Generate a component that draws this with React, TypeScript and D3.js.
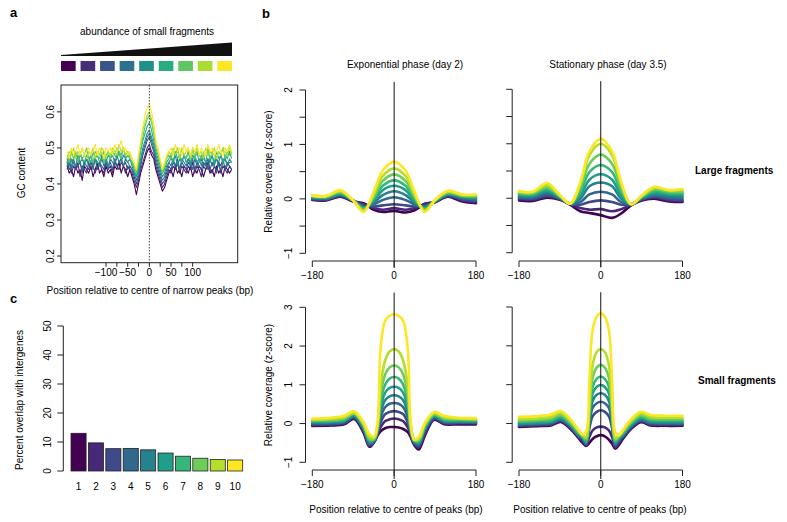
import React from 'react';
import * as d3 from 'd3';

const FONT = '"Liberation Sans", Arial, Helvetica, sans-serif';

// ---------- colours ----------
const VIRIDIS10 = ['#440154', '#482878', '#3E4A89', '#31688E', '#26828E', '#1F9E89', '#35B779', '#6DCD59', '#B4DE2C', '#FDE725'];
const VIRIDIS9 = ['#440154', '#472D7B', '#3B528B', '#2C728E', '#21908C', '#27AD81', '#5DC863', '#AADC32', '#FDE725'];

// ---------- panel a: GC content (positions -190..190 every 5 bp) ----------
const GC_X = [-190, -185, -180, -175, -170, -165, -160, -155, -150, -145, -140, -135, -130, -125, -120, -115, -110, -105, -100, -95, -90, -85, -80, -75, -70, -65, -60, -55, -50, -45, -40, -35, -30, -25, -20, -15, -10, -5, 0, 5, 10, 15, 20, 25, 30, 35, 40, 45, 50, 55, 60, 65, 70, 75, 80, 85, 90, 95, 100, 105, 110, 115, 120, 125, 130, 135, 140, 145, 150, 155, 160, 165, 170, 175, 180, 185, 190];
const GC_0 = [0.45, 0.43, 0.44, 0.42, 0.45, 0.43, 0.44, 0.41, 0.45, 0.44, 0.43, 0.45, 0.42, 0.44, 0.46, 0.43, 0.44, 0.42, 0.45, 0.43, 0.44, 0.42, 0.45, 0.44, 0.46, 0.43, 0.45, 0.44, 0.42, 0.44, 0.42, 0.40, 0.37, 0.40, 0.43, 0.45, 0.47, 0.49, 0.50, 0.48, 0.47, 0.44, 0.42, 0.40, 0.38, 0.39, 0.41, 0.43, 0.44, 0.42, 0.45, 0.43, 0.44, 0.42, 0.45, 0.44, 0.43, 0.45, 0.42, 0.44, 0.43, 0.45, 0.44, 0.42, 0.44, 0.45, 0.43, 0.44, 0.42, 0.45, 0.43, 0.44, 0.42, 0.45, 0.44, 0.43, 0.44];
const GC_1 = [0.44, 0.46, 0.43, 0.45, 0.44, 0.46, 0.42, 0.45, 0.44, 0.43, 0.46, 0.44, 0.45, 0.43, 0.45, 0.46, 0.44, 0.43, 0.46, 0.44, 0.45, 0.43, 0.46, 0.45, 0.44, 0.46, 0.45, 0.43, 0.45, 0.44, 0.43, 0.41, 0.39, 0.41, 0.44, 0.46, 0.48, 0.50, 0.51, 0.49, 0.48, 0.45, 0.43, 0.41, 0.39, 0.40, 0.42, 0.44, 0.43, 0.45, 0.44, 0.46, 0.43, 0.45, 0.44, 0.43, 0.45, 0.44, 0.46, 0.43, 0.45, 0.44, 0.42, 0.45, 0.44, 0.46, 0.44, 0.43, 0.45, 0.44, 0.46, 0.43, 0.45, 0.44, 0.43, 0.45, 0.44];
const GC_2 = [0.46, 0.44, 0.45, 0.47, 0.44, 0.45, 0.46, 0.43, 0.46, 0.45, 0.44, 0.46, 0.45, 0.47, 0.44, 0.46, 0.45, 0.44, 0.47, 0.45, 0.46, 0.44, 0.47, 0.45, 0.46, 0.47, 0.45, 0.46, 0.44, 0.45, 0.44, 0.42, 0.40, 0.42, 0.45, 0.48, 0.50, 0.52, 0.53, 0.51, 0.49, 0.46, 0.44, 0.42, 0.40, 0.41, 0.43, 0.45, 0.44, 0.46, 0.45, 0.47, 0.44, 0.46, 0.45, 0.44, 0.46, 0.45, 0.47, 0.44, 0.46, 0.45, 0.44, 0.46, 0.45, 0.47, 0.44, 0.46, 0.45, 0.43, 0.46, 0.45, 0.47, 0.44, 0.46, 0.45, 0.44];
const GC_3 = [0.45, 0.47, 0.44, 0.46, 0.45, 0.47, 0.46, 0.44, 0.46, 0.47, 0.45, 0.46, 0.44, 0.47, 0.46, 0.45, 0.47, 0.45, 0.46, 0.44, 0.47, 0.46, 0.45, 0.48, 0.46, 0.47, 0.45, 0.47, 0.46, 0.45, 0.44, 0.43, 0.41, 0.43, 0.46, 0.49, 0.51, 0.53, 0.54, 0.52, 0.50, 0.47, 0.45, 0.43, 0.41, 0.42, 0.44, 0.46, 0.45, 0.47, 0.45, 0.46, 0.44, 0.47, 0.46, 0.45, 0.47, 0.46, 0.44, 0.47, 0.45, 0.46, 0.47, 0.45, 0.46, 0.44, 0.47, 0.45, 0.46, 0.47, 0.45, 0.44, 0.46, 0.47, 0.45, 0.46, 0.46];
const GC_4 = [0.47, 0.45, 0.47, 0.46, 0.45, 0.48, 0.46, 0.47, 0.45, 0.47, 0.46, 0.48, 0.45, 0.47, 0.46, 0.45, 0.48, 0.46, 0.47, 0.45, 0.47, 0.48, 0.46, 0.47, 0.49, 0.46, 0.48, 0.47, 0.46, 0.47, 0.45, 0.43, 0.42, 0.44, 0.47, 0.50, 0.52, 0.54, 0.55, 0.53, 0.51, 0.48, 0.46, 0.44, 0.42, 0.43, 0.45, 0.46, 0.47, 0.46, 0.48, 0.45, 0.47, 0.46, 0.48, 0.46, 0.47, 0.45, 0.47, 0.48, 0.46, 0.47, 0.45, 0.48, 0.46, 0.47, 0.46, 0.48, 0.45, 0.47, 0.46, 0.48, 0.46, 0.47, 0.45, 0.47, 0.46];
const GC_5 = [0.46, 0.48, 0.46, 0.47, 0.49, 0.46, 0.48, 0.47, 0.46, 0.48, 0.47, 0.46, 0.49, 0.47, 0.48, 0.46, 0.47, 0.49, 0.46, 0.48, 0.47, 0.49, 0.48, 0.47, 0.49, 0.48, 0.50, 0.47, 0.48, 0.47, 0.46, 0.44, 0.42, 0.45, 0.49, 0.52, 0.54, 0.56, 0.57, 0.55, 0.52, 0.49, 0.47, 0.45, 0.43, 0.44, 0.46, 0.47, 0.48, 0.46, 0.49, 0.47, 0.48, 0.46, 0.48, 0.47, 0.49, 0.46, 0.48, 0.47, 0.49, 0.46, 0.48, 0.47, 0.46, 0.49, 0.47, 0.48, 0.46, 0.49, 0.47, 0.48, 0.46, 0.48, 0.47, 0.49, 0.47];
const GC_6 = [0.48, 0.46, 0.49, 0.47, 0.48, 0.46, 0.49, 0.47, 0.48, 0.50, 0.47, 0.48, 0.46, 0.49, 0.48, 0.47, 0.49, 0.46, 0.48, 0.49, 0.47, 0.49, 0.48, 0.50, 0.49, 0.47, 0.50, 0.48, 0.49, 0.47, 0.46, 0.45, 0.43, 0.46, 0.50, 0.53, 0.56, 0.58, 0.59, 0.57, 0.54, 0.50, 0.48, 0.46, 0.43, 0.45, 0.47, 0.48, 0.47, 0.49, 0.48, 0.50, 0.47, 0.49, 0.48, 0.47, 0.49, 0.48, 0.50, 0.47, 0.49, 0.48, 0.47, 0.49, 0.48, 0.50, 0.47, 0.49, 0.48, 0.47, 0.49, 0.48, 0.50, 0.47, 0.49, 0.48, 0.49];
const GC_7 = [0.47, 0.49, 0.48, 0.50, 0.47, 0.49, 0.48, 0.50, 0.48, 0.47, 0.49, 0.48, 0.50, 0.47, 0.49, 0.48, 0.50, 0.49, 0.47, 0.49, 0.48, 0.50, 0.49, 0.48, 0.51, 0.49, 0.50, 0.48, 0.49, 0.48, 0.47, 0.45, 0.44, 0.47, 0.51, 0.55, 0.57, 0.59, 0.60, 0.58, 0.55, 0.51, 0.49, 0.46, 0.44, 0.45, 0.47, 0.49, 0.48, 0.50, 0.48, 0.49, 0.47, 0.50, 0.48, 0.49, 0.50, 0.47, 0.49, 0.48, 0.50, 0.48, 0.49, 0.47, 0.50, 0.48, 0.49, 0.48, 0.50, 0.47, 0.49, 0.48, 0.50, 0.49, 0.48, 0.50, 0.48];
const GC_8 = [0.49, 0.47, 0.50, 0.48, 0.49, 0.51, 0.48, 0.50, 0.48, 0.49, 0.50, 0.48, 0.49, 0.51, 0.48, 0.50, 0.49, 0.47, 0.50, 0.49, 0.50, 0.48, 0.51, 0.49, 0.50, 0.52, 0.49, 0.50, 0.48, 0.49, 0.47, 0.46, 0.44, 0.48, 0.52, 0.56, 0.59, 0.61, 0.62, 0.60, 0.57, 0.52, 0.50, 0.47, 0.44, 0.46, 0.48, 0.49, 0.50, 0.48, 0.51, 0.49, 0.50, 0.48, 0.51, 0.49, 0.50, 0.48, 0.50, 0.49, 0.51, 0.48, 0.50, 0.49, 0.48, 0.51, 0.49, 0.50, 0.48, 0.49, 0.51, 0.49, 0.48, 0.50, 0.49, 0.51, 0.49];
const GC_SERIES = [GC_0, GC_1, GC_2, GC_3, GC_4, GC_5, GC_6, GC_7, GC_8];
const GC_XTICKS = [-100, -75, -50, -25, 0, 25, 50, 75, 100];
const GC_XLABELS = [-100, -50, 0, 50, 100];
const GC_YTICKS = [0.2, 0.3, 0.4, 0.5, 0.6];

// ---------- panel c: bars ----------
const BAR_CATS = ['1', '2', '3', '4', '5', '6', '7', '8', '9', '10'];
const BAR_VALUES = [13.0, 9.7, 7.7, 7.8, 7.3, 6.2, 5.1, 4.4, 4.0, 3.8];
const BAR_YTICKS = [0, 10, 20, 30, 40, 50];

// ---------- panel b: coverage profiles ----------
const X_LARGE = [-180, -150, -118, -90, -67, -45, -25, 0, 25, 45, 67, 90, 118, 150, 180];
const EXP_LARGE = [
  [-0.02, -0.03, 0.04, -0.05, -0.08, -0.2, -0.24, -0.22, -0.25, -0.21, -0.09, -0.06, 0.04, -0.05, -0.08],
  [-0.01, -0.02, 0.05, -0.04, -0.1, -0.17, -0.2, -0.17, -0.2, -0.17, -0.1, -0.06, 0.05, -0.03, -0.06],
  [0.0, -0.01, 0.06, -0.04, -0.12, -0.14, -0.12, -0.1, -0.12, -0.14, -0.12, -0.05, 0.06, -0.01, -0.04],
  [0.01, 0.0, 0.07, -0.03, -0.14, -0.1, -0.02, 0.03, -0.02, -0.1, -0.14, -0.05, 0.07, 0.01, -0.02],
  [0.02, 0.01, 0.08, -0.03, -0.16, -0.07, 0.07, 0.14, 0.07, -0.07, -0.16, -0.04, 0.08, 0.02, 0.0],
  [0.03, 0.02, 0.09, -0.03, -0.17, -0.04, 0.16, 0.24, 0.16, -0.04, -0.17, -0.04, 0.09, 0.04, 0.02],
  [0.04, 0.03, 0.11, -0.03, -0.18, 0.0, 0.24, 0.34, 0.24, 0.0, -0.18, -0.03, 0.1, 0.05, 0.04],
  [0.05, 0.04, 0.12, -0.03, -0.2, 0.04, 0.33, 0.45, 0.33, 0.04, -0.2, -0.03, 0.12, 0.06, 0.05],
  [0.06, 0.05, 0.14, -0.03, -0.22, 0.08, 0.42, 0.56, 0.42, 0.08, -0.22, -0.02, 0.13, 0.07, 0.07],
  [0.06, 0.05, 0.16, -0.03, -0.24, 0.13, 0.52, 0.68, 0.52, 0.13, -0.24, -0.02, 0.15, 0.08, 0.08],
];
const STA_LARGE = [
  [-0.04, -0.05, 0.01, -0.03, -0.12, -0.24, -0.27, -0.31, -0.36, -0.28, -0.13, -0.04, -0.01, -0.06, -0.07],
  [-0.02, -0.03, 0.03, -0.02, -0.11, -0.18, -0.21, -0.2, -0.24, -0.2, -0.12, -0.03, 0.01, -0.04, -0.05],
  [0.0, -0.01, 0.05, -0.01, -0.11, -0.12, -0.07, -0.04, -0.07, -0.12, -0.12, -0.02, 0.03, -0.02, -0.03],
  [0.02, 0.01, 0.08, 0.0, -0.1, -0.07, 0.07, 0.12, 0.07, -0.07, -0.11, -0.01, 0.05, 0.01, 0.0],
  [0.04, 0.03, 0.11, 0.01, -0.1, -0.01, 0.22, 0.29, 0.22, -0.01, -0.11, 0.0, 0.07, 0.04, 0.03],
  [0.06, 0.05, 0.14, 0.02, -0.1, 0.05, 0.34, 0.44, 0.34, 0.05, -0.11, 0.01, 0.1, 0.07, 0.06],
  [0.08, 0.07, 0.17, 0.03, -0.1, 0.12, 0.48, 0.61, 0.48, 0.12, -0.11, 0.02, 0.13, 0.09, 0.09],
  [0.1, 0.09, 0.2, 0.04, -0.1, 0.19, 0.63, 0.8, 0.63, 0.19, -0.11, 0.03, 0.16, 0.12, 0.12],
  [0.12, 0.11, 0.24, 0.05, -0.1, 0.26, 0.79, 1.0, 0.79, 0.26, -0.11, 0.04, 0.19, 0.14, 0.15],
  [0.13, 0.12, 0.28, 0.06, -0.1, 0.3, 0.86, 1.09, 0.86, 0.3, -0.11, 0.05, 0.21, 0.15, 0.17],
];
const X_SMALL_EXP = [-180, -140, -110, -88, -68, -54, -44, -36, -30, -20, -10, 0, 10, 20, 30, 36, 44, 54, 68, 88, 110, 140, 180];
const EXP_SMALL = [
  [-0.06, -0.05, -0.02, 0.12, -0.22, -0.6, -0.48, -0.3, -0.2, -0.12, -0.09, -0.09, -0.1, -0.14, -0.22, -0.34, -0.55, -0.67, -0.3, 0.1, -0.02, -0.02, -0.02],
  [-0.04, -0.03, 0.0, 0.14, -0.18, -0.58, -0.47, -0.26, -0.1, 0.06, 0.11, 0.13, 0.11, 0.06, -0.1, -0.28, -0.52, -0.62, -0.25, 0.12, 0.0, 0.0, 0.0],
  [-0.02, -0.01, 0.02, 0.16, -0.15, -0.55, -0.46, -0.22, 0.02, 0.24, 0.3, 0.32, 0.3, 0.24, 0.02, -0.23, -0.5, -0.58, -0.2, 0.14, 0.02, 0.02, 0.02],
  [0.0, 0.01, 0.04, 0.18, -0.12, -0.52, -0.45, -0.19, 0.15, 0.42, 0.51, 0.53, 0.51, 0.42, 0.15, -0.2, -0.48, -0.55, -0.16, 0.16, 0.04, 0.04, 0.03],
  [0.02, 0.03, 0.06, 0.2, -0.1, -0.49, -0.44, -0.16, 0.27, 0.6, 0.7, 0.73, 0.7, 0.6, 0.27, -0.17, -0.46, -0.52, -0.13, 0.18, 0.06, 0.05, 0.05],
  [0.04, 0.05, 0.08, 0.22, -0.07, -0.46, -0.42, -0.13, 0.4, 0.79, 0.92, 0.95, 0.92, 0.79, 0.4, -0.14, -0.45, -0.49, -0.1, 0.2, 0.08, 0.07, 0.06],
  [0.06, 0.07, 0.1, 0.24, -0.05, -0.43, -0.41, -0.1, 0.55, 1.0, 1.16, 1.2, 1.16, 1.0, 0.55, -0.1, -0.44, -0.46, -0.07, 0.22, 0.1, 0.09, 0.08],
  [0.08, 0.09, 0.13, 0.26, -0.02, -0.4, -0.39, -0.05, 0.72, 1.26, 1.45, 1.5, 1.45, 1.26, 0.72, -0.05, -0.42, -0.43, -0.04, 0.24, 0.13, 0.11, 0.1],
  [0.1, 0.12, 0.16, 0.28, 0.0, -0.35, -0.37, 0.0, 0.95, 1.62, 1.86, 1.92, 1.86, 1.62, 0.95, 0.0, -0.4, -0.4, -0.01, 0.27, 0.16, 0.13, 0.12],
  [0.13, 0.15, 0.2, 0.32, 0.05, -0.28, -0.34, 0.1, 1.9, 2.65, 2.78, 2.82, 2.78, 2.65, 1.9, 0.1, -0.42, -0.35, 0.02, 0.3, 0.2, 0.15, 0.14],
];
const X_SMALL_STA = [-180, -140, -110, -88, -66, -50, -40, -32, -25, -18, -9, 0, 9, 18, 25, 32, 40, 50, 66, 88, 110, 140, 180];
const STA_SMALL = [
  [-0.09, -0.07, -0.05, 0.04, -0.15, -0.36, -0.5, -0.58, -0.5, -0.4, -0.33, -0.3, -0.33, -0.42, -0.52, -0.65, -0.55, -0.38, -0.15, 0.03, -0.05, -0.06, -0.06],
  [-0.07, -0.05, -0.03, 0.06, -0.13, -0.34, -0.46, -0.56, -0.34, -0.18, -0.1, -0.08, -0.1, -0.18, -0.35, -0.62, -0.5, -0.35, -0.13, 0.05, -0.03, -0.04, -0.04],
  [-0.05, -0.03, -0.01, 0.08, -0.1, -0.32, -0.42, -0.54, -0.12, 0.18, 0.3, 0.34, 0.3, 0.18, -0.12, -0.58, -0.46, -0.32, -0.1, 0.07, -0.01, -0.02, -0.02],
  [-0.03, -0.01, 0.01, 0.1, -0.08, -0.3, -0.39, -0.52, -0.03, 0.4, 0.52, 0.56, 0.52, 0.4, -0.03, -0.55, -0.43, -0.3, -0.08, 0.09, 0.01, 0.0, 0.0],
  [-0.01, 0.01, 0.03, 0.12, -0.06, -0.28, -0.37, -0.5, 0.06, 0.58, 0.74, 0.78, 0.74, 0.58, 0.06, -0.52, -0.4, -0.28, -0.06, 0.11, 0.03, 0.02, 0.02],
  [0.01, 0.03, 0.05, 0.15, -0.04, -0.26, -0.35, -0.48, 0.15, 0.77, 0.94, 0.99, 0.94, 0.77, 0.15, -0.49, -0.37, -0.26, -0.04, 0.14, 0.06, 0.05, 0.05],
  [0.04, 0.06, 0.08, 0.18, -0.01, -0.23, -0.33, -0.45, 0.25, 0.94, 1.15, 1.21, 1.15, 0.94, 0.25, -0.46, -0.35, -0.23, -0.01, 0.17, 0.09, 0.08, 0.08],
  [0.07, 0.09, 0.12, 0.22, 0.02, -0.2, -0.32, -0.4, 0.35, 1.17, 1.44, 1.51, 1.44, 1.17, 0.35, -0.42, -0.33, -0.2, 0.02, 0.21, 0.12, 0.11, 0.11],
  [0.11, 0.13, 0.17, 0.27, 0.06, -0.17, -0.3, -0.35, 0.5, 1.5, 1.84, 1.92, 1.84, 1.5, 0.5, -0.37, -0.31, -0.17, 0.06, 0.26, 0.17, 0.15, 0.15],
  [0.17, 0.19, 0.23, 0.32, 0.1, -0.15, -0.28, -0.2, 1.1, 2.4, 2.75, 2.84, 2.75, 2.4, 1.1, -0.22, -0.3, -0.15, 0.1, 0.3, 0.22, 0.2, 0.2],
];
const B_XTICKS = [-180, 0, 180];
const LARGE_YTICKS = [-1, -0.5, 0, 0.5, 1, 1.5, 2];
const SMALL_YTICKS = [-1, 0, 1, 2, 3];
const LARGE_REF = [-1.27, 2.15];
const SMALL_REF = [-1.43, 3.38];

const AXIS = '#222';
const fmt = (v: number) => (v < 0 ? '\u2212' + Math.abs(v) : String(v));

function PanelA() {
  const x = d3.scaleLinear().domain([-204, 204]).range([61, 237.7]);
  const y = d3.scaleLinear().domain([0.1815, 0.6745]).range([262.7, 85]);
  const line = d3.line<number>().x((_, i) => x(GC_X[i])).y((v) => y(v));
  const sw = d3.scaleBand<number>().domain(d3.range(9)).range([61, 232]).paddingInner(0.25).paddingOuter(0);
  return (
    <g>
      <text x={10} y={17} fontSize={13} fontWeight="bold">a</text>
      <text x={147} y={35} fontSize={10} textAnchor="middle">abundance of small fragments</text>
      <polygon points="61,55 232,42.5 232,56 61,56" fill="#111" />
      {VIRIDIS9.map((c, i) => (
        <rect key={i} x={sw(i)} y={61} width={sw.bandwidth()} height={10} fill={c} />
      ))}
      <clipPath id="clipA"><rect x={61} y={85} width={176.7} height={177.7} /></clipPath>
      <g clipPath="url(#clipA)">
        {GC_SERIES.map((s, i) => (
          <path key={i} d={line(s) || ''} fill="none" stroke={VIRIDIS9[i]} strokeWidth={1.1} strokeLinejoin="round" />
        ))}
      </g>
      <line x1={x(0)} x2={x(0)} y1={85} y2={262.7} stroke="#444" strokeWidth={1} strokeDasharray="1.5,1.5" />
      <rect x={61} y={85} width={176.7} height={177.7} fill="none" stroke={AXIS} strokeWidth={1} />
      {GC_XTICKS.map((t) => (
        <line key={t} x1={x(t)} x2={x(t)} y1={262.7} y2={266.7} stroke={AXIS} />
      ))}
      {GC_XLABELS.map((t) => (
        <text key={t} x={x(t)} y={276} fontSize={10} textAnchor="middle">{fmt(t)}</text>
      ))}
      {GC_YTICKS.map((t) => (
        <g key={t}>
          <line x1={57} x2={61} y1={y(t)} y2={y(t)} stroke={AXIS} />
          <text transform={`translate(50,${y(t)}) rotate(-90)`} fontSize={10} textAnchor="middle" dominantBaseline="central">{t.toFixed(1)}</text>
        </g>
      ))}
      <text transform={`translate(21,173) rotate(-90)`} fontSize={10} textAnchor="middle" dominantBaseline="central">GC content</text>
      <text x={150} y={294} fontSize={10} textAnchor="middle">Position relative to centre of narrow peaks (bp)</text>
    </g>
  );
}

function PanelC() {
  const x = d3.scaleBand<string>().domain(BAR_CATS).range([69.85, 243.85]).paddingInner(0.133).paddingOuter(0.0667);
  const y = d3.scaleLinear().domain([0, 50]).range([471, 326]);
  return (
    <g>
      <text x={10} y={303} fontSize={13} fontWeight="bold">c</text>
      {BAR_VALUES.map((v, i) => (
        <rect key={i} x={x(BAR_CATS[i])} y={y(v)} width={x.bandwidth()} height={y(0) - y(v)} fill={VIRIDIS10[i]} stroke="#222" strokeWidth={0.8} />
      ))}
      <line x1={63.3} x2={63.3} y1={y(0)} y2={y(50)} stroke={AXIS} />
      {BAR_YTICKS.map((t) => (
        <g key={t}>
          <line x1={57.3} x2={63.3} y1={y(t)} y2={y(t)} stroke={AXIS} />
          <text transform={`translate(47,${y(t)}) rotate(-90)`} fontSize={10} textAnchor="middle" dominantBaseline="central">{t}</text>
        </g>
      ))}
      {BAR_CATS.map((c) => (
        <text key={c} x={(x(c) || 0) + x.bandwidth() / 2} y={489.5} fontSize={10} textAnchor="middle">{c}</text>
      ))}
      <text transform={`translate(19,400) rotate(-90)`} fontSize={10} textAnchor="middle" dominantBaseline="central">Percent overlap with intergenes</text>
    </g>
  );
}

type BProps = {
  xLeft: number; xRight: number; yMinPx: number; yMaxPx: number;
  yDomain: [number, number]; yTicks: number[]; showYLabels: boolean;
  xAxisY: number; xs: number[]; series: number[][]; refExtent: number[];
};

function BPanel(p: BProps) {
  const x = d3.scaleLinear().domain([-180, 180]).range([p.xLeft, p.xRight]);
  const y = d3.scaleLinear().domain(p.yDomain).range([p.yMinPx, p.yMaxPx]);
  const axisX = p.xLeft - 6.8;
  const line = d3.line<number>().x((_, i) => x(p.xs[i])).y((v) => y(v)).curve(d3.curveCatmullRom.alpha(0.5));
  return (
    <g>
      {p.series.map((s, i) => (
        <path key={i} d={line(s) || ''} fill="none" stroke={VIRIDIS10[i]} strokeWidth={2.6} strokeLinejoin="round" strokeLinecap="round" />
      ))}
      <line x1={x(0)} x2={x(0)} y1={y(p.refExtent[0])} y2={y(p.refExtent[1])} stroke="#111" strokeWidth={1} />
      <line x1={axisX} x2={axisX} y1={y(p.yDomain[0])} y2={y(p.yDomain[1])} stroke={AXIS} />
      {p.yTicks.map((t) => (
        <g key={t}>
          <line x1={axisX - 6} x2={axisX} y1={y(t)} y2={y(t)} stroke={AXIS} />
          {p.showYLabels && Number.isInteger(t) && (
            <text transform={`translate(${axisX - 17},${y(t)}) rotate(-90)`} fontSize={10} textAnchor="middle" dominantBaseline="central">{fmt(t)}</text>
          )}
        </g>
      ))}
      <line x1={x(-180)} x2={x(180)} y1={p.xAxisY} y2={p.xAxisY} stroke={AXIS} />
      {B_XTICKS.map((t) => (
        <g key={t}>
          <line x1={x(t)} x2={x(t)} y1={p.xAxisY} y2={p.xAxisY + 6} stroke={AXIS} />
          <text x={x(t)} y={p.xAxisY + 18} fontSize={10} textAnchor="middle">{fmt(t)}</text>
        </g>
      ))}
    </g>
  );
}

export default function App() {
  return (
    <svg width={787} height={522} style={{ position: 'absolute', left: 0, top: 0, background: '#fff' }} fontFamily={FONT}>
      <rect width={787} height={522} fill="#fff" />
      <PanelA />
      <PanelC />
      <text x={262} y={18} fontSize={13} fontWeight="bold">b</text>
      <text x={405} y={67.5} fontSize={10} textAnchor="middle">Exponential phase (day 2)</text>
      <text x={608} y={67.5} fontSize={10} textAnchor="middle">Stationary phase (day 3.5)</text>
      <BPanel xLeft={312.3} xRight={476} yMinPx={253.3} yMaxPx={90} yDomain={[-1, 2]} yTicks={LARGE_YTICKS} showYLabels xAxisY={261} xs={X_LARGE} series={EXP_LARGE} refExtent={LARGE_REF} />
      <BPanel xLeft={519} xRight={682.5} yMinPx={252.7} yMaxPx={89.3} yDomain={[-1, 2]} yTicks={LARGE_YTICKS} showYLabels={false} xAxisY={261} xs={X_LARGE} series={STA_LARGE} refExtent={LARGE_REF} />
      <BPanel xLeft={312.3} xRight={476} yMinPx={462.3} yMaxPx={307.3} yDomain={[-1, 3]} yTicks={SMALL_YTICKS} showYLabels xAxisY={470} xs={X_SMALL_EXP} series={EXP_SMALL} refExtent={SMALL_REF} />
      <BPanel xLeft={519} xRight={682.5} yMinPx={462.3} yMaxPx={307} yDomain={[-1, 3]} yTicks={SMALL_YTICKS} showYLabels={false} xAxisY={470} xs={X_SMALL_STA} series={STA_SMALL} refExtent={SMALL_REF} />
      <text transform="translate(268,171.5) rotate(-90)" fontSize={10} textAnchor="middle" dominantBaseline="central">Relative coverage (z-score)</text>
      <text transform="translate(268,385) rotate(-90)" fontSize={10} textAnchor="middle" dominantBaseline="central">Relative coverage (z-score)</text>
      <text x={396} y={512.5} fontSize={10} textAnchor="middle">Position relative to centre of peaks (bp)</text>
      <text x={600} y={512.5} fontSize={10} textAnchor="middle">Position relative to centre of peaks (bp)</text>
      <text x={695} y={174} fontSize={10} fontWeight="bold">Large fragments</text>
      <text x={698} y={383.5} fontSize={10} fontWeight="bold">Small fragments</text>
    </svg>
  );
}
